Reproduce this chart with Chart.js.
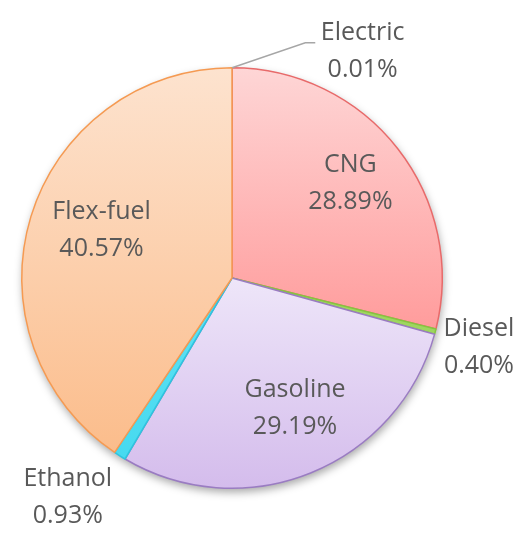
<!DOCTYPE html>
<html><head><meta charset="utf-8">
<script src="https://cdn.jsdelivr.net/npm/chart.js@4"></script>
<style>html,body{margin:0;padding:0;background:#fff}#c{display:block}</style>
</head><body>
<canvas id="c" width="532" height="550"></canvas>
<script>
// ---- data ----
const categories = ['Electric', 'CNG', 'Diesel', 'Gasoline', 'Ethanol', 'Flex-fuel'];
const shares = [0.01, 28.89, 0.40, 29.19, 0.93, 40.57];
const shareLabels = ['0.01%', '28.89%', '0.40%', '29.19%', '0.93%', '40.57%'];

// ---- styles ----
const fillTop    = ['#fbd3b0', '#fed6d6', '#b5e07a', '#eee6f9', '#86ecf8', '#fde3cf'];
const fillBottom = ['#f9bb86', '#ff9c9c', '#8fd04e', '#d4bcec', '#41d8ef', '#fbb985'];
const gradSpan   = [[0,1],[0,0.62],[0,1],[0.5,1],[0,1],[0,1]];
const borderCols = ['#f79646', '#e86a6a', '#86c440', '#9a7cc2', '#2fc4de', '#f59a52'];
// label placement: kind, radial factor, angle offset (deg)
const labelPlace = [
  {kind:'lead', f:1.243, da:30},
  {kind:'in',  f:0.72, da:-0.6},
  {kind:'out', f:1.22, da:0.9},
  {kind:'in',  f:0.69, da:-3.8},
  {kind:'out', f:1.305, da:4.5},
  {kind:'in',  f:0.66, da:3}
];
const FONT = '25px "Open Sans", "Noto Sans", sans-serif';
const TEXT = '#595959';

const shadowPlugin = {
  id: 'pieShadow',
  beforeDatasetsDraw(chart) {
    const arc = chart.getDatasetMeta(0).data[0];
    if (!arc) return;
    const {x, y, outerRadius} = arc.getProps(['x','y','outerRadius'], true);
    const c = chart.ctx;
    c.save();
    c.shadowColor = 'rgba(0,0,0,0.35)';
    c.shadowBlur = 8;
    c.shadowOffsetX = 1;
    c.shadowOffsetY = 4;
    c.fillStyle = '#fff';
    c.beginPath();
    c.arc(x, y, outerRadius, 0, Math.PI * 2);
    c.fill();
    c.restore();
  }
};

const labelPlugin = {
  id: 'pieLabels',
  afterDatasetsDraw(chart) {
    const c = chart.ctx;
    const arcs = chart.getDatasetMeta(0).data;
    c.save();
    c.font = FONT;
    c.fillStyle = TEXT;
    c.textAlign = 'center';
    c.textBaseline = 'middle';
    arcs.forEach((arc, i) => {
      const p = arc.getProps(['x','y','startAngle','endAngle','outerRadius'], true);
      const mid = (p.startAngle + p.endAngle) / 2;
      const lp = labelPlace[i];
      let a = mid + lp.da * Math.PI / 180;
      if (lp.kind === 'lead') a = -Math.PI / 2 + lp.da * Math.PI / 180;
      const r = p.outerRadius * lp.f;
      const tx = p.x + r * Math.cos(a);
      const ty = p.y + r * Math.sin(a);
      if (lp.kind === 'lead') {
        const sx = p.x + p.outerRadius * Math.cos(mid);
        const sy = p.y + p.outerRadius * Math.sin(mid);
        const ba = -Math.PI / 2 + 17.3 * Math.PI / 180;
        const br = p.outerRadius * 1.172;
        const bx = p.x + br * Math.cos(ba);
        const by = p.y + br * Math.sin(ba);
        c.save();
        c.strokeStyle = '#a6a6a6';
        c.lineWidth = 1.4;
        c.beginPath();
        c.moveTo(sx, sy);
        c.lineTo(bx, by);
        c.lineTo(bx + 10, by);
        c.stroke();
        c.restore();
      }
      c.fillText(categories[i], tx, ty - 18.5);
      c.fillText(shareLabels[i], tx, ty + 18.5);
    });
    c.restore();
  }
};

new Chart(document.getElementById('c'), {
  type: 'pie',
  data: {
    labels: categories,
    datasets: [{
      data: shares,
      backgroundColor: (ctx) => {
        const i = ctx.dataIndex;
        const ca = ctx.chart.chartArea;
        if (!ca) return fillBottom[i];
        const h = ca.bottom - ca.top;
        const g = ctx.chart.ctx.createLinearGradient(0, ca.top + h * gradSpan[i][0], 0, ca.top + h * gradSpan[i][1]);
        g.addColorStop(0, fillTop[i]);
        g.addColorStop(1, fillBottom[i]);
        return g;
      },
      borderColor: borderCols,
      borderWidth: 1.5
    }]
  },
  options: {
    responsive: false,
    animation: false,
    layout: {padding: {top: 67, bottom: 61, left: 21, right: 89}},
    plugins: {legend: {display: false}, tooltip: {enabled: false}}
  },
  plugins: [shadowPlugin, labelPlugin]
});
</script>
</body></html>
